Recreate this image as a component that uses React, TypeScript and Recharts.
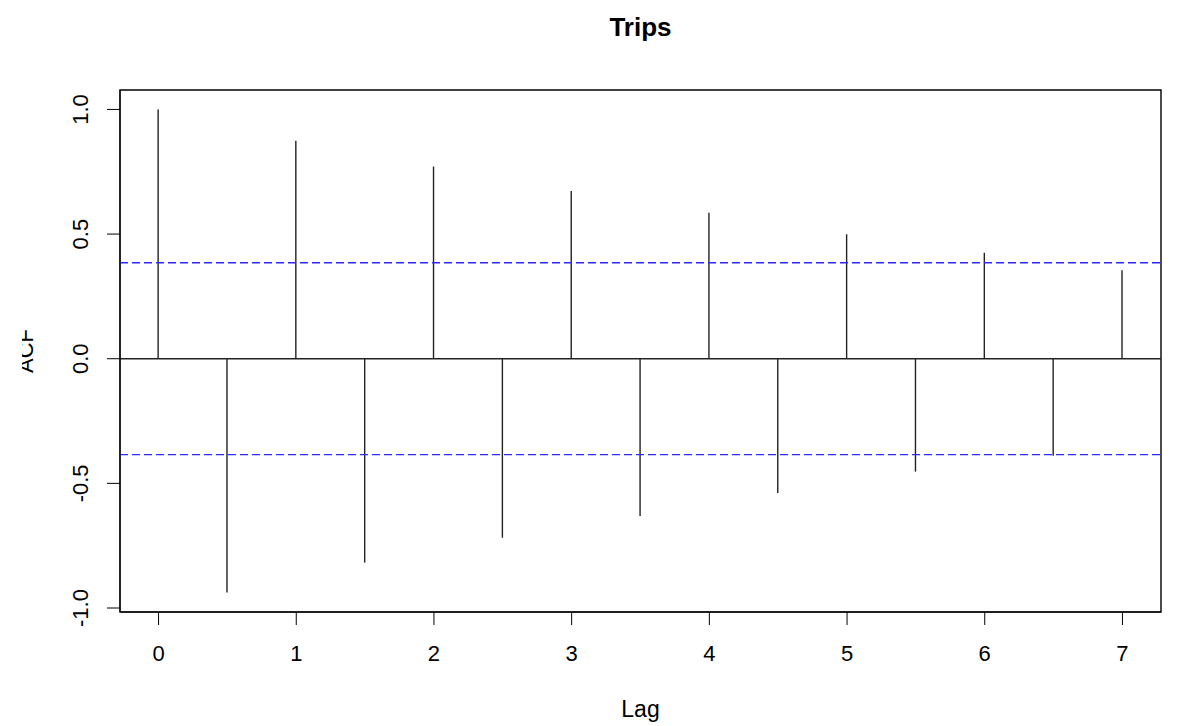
import React from 'react';
import {
  ComposedChart,
  Bar,
  XAxis,
  YAxis,
  ReferenceLine,
  ReferenceArea,
} from 'recharts';

// ACF estimates
const lags = [0, 0.5, 1, 1.5, 2, 2.5, 3, 3.5, 4, 4.5, 5, 5.5, 6, 6.5, 7];
const acfValues = [
  1.0, -0.938, 0.874, -0.818, 0.771, -0.718, 0.673, -0.631, 0.586, -0.539,
  0.499, -0.453, 0.425, -0.389, 0.355,
];
const ciBound = 0.385;
const xTicks = [0, 1, 2, 3, 4, 5, 6, 7];
const yTicks = [-1, -0.5, 0, 0.5, 1];
const xDomain: [number, number] = [-0.28, 7.28];
const yDomain: [number, number] = [-1.016, 1.078];

const data = lags.map((lag, i) => ({ lag, acf: acfValues[i] }));

const FONT = '"Liberation Sans", Arial, sans-serif';

function Spike(props: any) {
  const { x, y, width, height } = props;
  const cx = x + width / 2;
  return <line x1={cx} x2={cx} y1={y} y2={y + height} stroke="#222" strokeWidth={1.4} />;
}

function YTick(props: any) {
  const { x, y, payload } = props;
  const bx = x - 17;
  return (
    <text
      x={bx}
      y={y}
      transform={`rotate(-90, ${bx}, ${y})`}
      textAnchor="middle"
      fontSize={22}
      fontFamily={FONT}
      fill="#000"
    >
      {payload.value.toFixed(1)}
    </text>
  );
}

function YLabel(props: any) {
  const { viewBox } = props;
  const cy = viewBox.y + viewBox.height / 2;
  return (
    <text
      x={11}
      y={cy}
      transform={`rotate(-90, 11, ${cy})`}
      textAnchor="middle"
      fontSize={22}
      fontFamily={FONT}
      fill="#000"
    >
      ACF
    </text>
  );
}

export default function App() {
  return (
    <div style={{ position: 'absolute', left: 0, top: 0, width: 1178, height: 726, background: '#fff' }}>
      <div
        style={{
          position: 'absolute',
          left: 0,
          top: 14,
          width: 1281,
          textAlign: 'center',
          fontFamily: FONT,
          fontWeight: 'bold',
          fontSize: 26,
          lineHeight: '26px',
        }}
      >
        Trips
      </div>
      <div style={{ position: 'absolute', left: 22, top: 0 }}>
        <ComposedChart
          width={1156}
          height={726}
          data={data}
          margin={{ top: 90, right: 17, bottom: 0, left: 0 }}
        >
          <XAxis
            dataKey="lag"
            type="number"
            domain={xDomain}
            allowDataOverflow
            ticks={xTicks}
            height={114}
            tickSize={13}
            tickMargin={20}
            stroke="#000"
            tick={{ fontSize: 22, fontFamily: FONT, fill: '#000' }}
            label={{ value: 'Lag', position: 'insideBottom', offset: 9, fontSize: 23, fontFamily: FONT, fill: '#000' }}
          />
          <YAxis
            type="number"
            domain={yDomain}
            allowDataOverflow
            ticks={yTicks}
            width={98}
            tickSize={13}
            stroke="#000"
            tick={<YTick />}
            label={{ content: (p: any) => <YLabel {...p} /> }}
          />
          <ReferenceArea
            x1={xDomain[0]}
            x2={xDomain[1]}
            y1={yDomain[0]}
            y2={yDomain[1]}
            fill="none"
            stroke="#000"
            strokeWidth={1.4}
            ifOverflow="visible"
          />
          <ReferenceLine y={0} stroke="#222" strokeWidth={1.4} />
          <ReferenceLine y={ciBound} stroke="#2a2aff" strokeWidth={1.3} strokeDasharray="8 4" />
          <ReferenceLine y={-ciBound} stroke="#2a2aff" strokeWidth={1.3} strokeDasharray="8 4" />
          <Bar dataKey="acf" barSize={2} shape={<Spike />} isAnimationActive={false} />
        </ComposedChart>
      </div>
    </div>
  );
}
